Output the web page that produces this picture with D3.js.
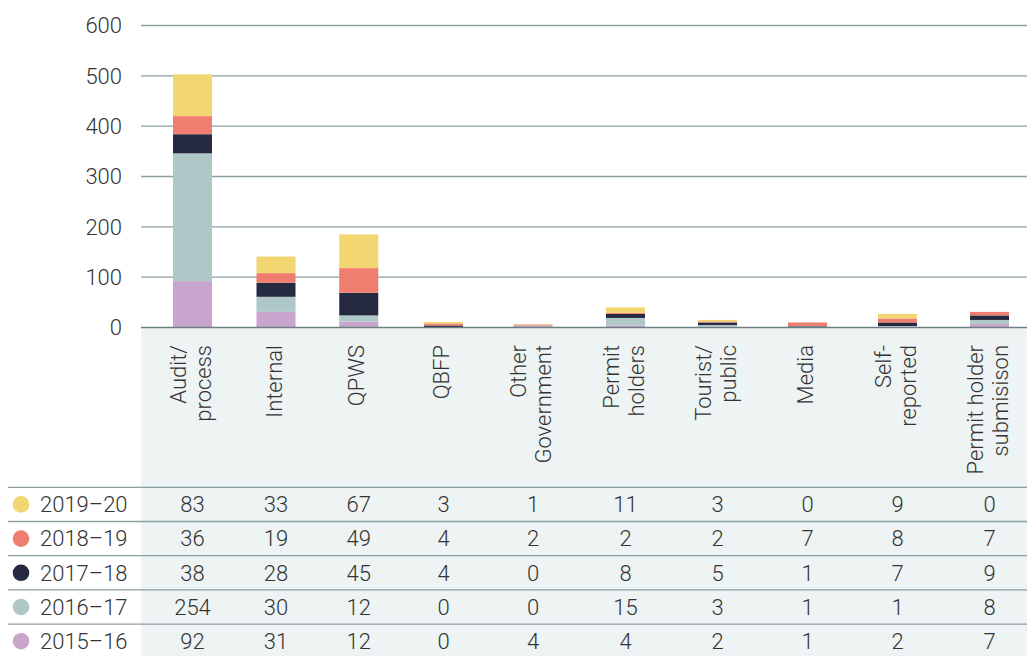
<!DOCTYPE html>
<html>
<head>
<meta charset="utf-8">
<script src="https://cdn.jsdelivr.net/npm/d3@7"></script>
<style>
  html, body { margin: 0; padding: 0; background: #fff; }
  svg text { font-family: Roboto, "Liberation Sans", Arial, sans-serif; font-weight: 300; fill: #333; }
</style>
</head>
<body>
<div id="chart"></div>
<script>
// categories (label lines for the rotated headers)
const categories = ["Audit/process", "Internal", "QPWS", "QBFP", "Other Government",
  "Permit holders", "Tourist/public", "Media", "Self-reported", "Permit holder submisison"];
const categoryLines = [["Audit/", "process"], ["Internal"], ["QPWS"], ["QBFP"], ["Other", "Government"],
  ["Permit", "holders"], ["Tourist/", "public"], ["Media"], ["Self-", "reported"], ["Permit holder", "submisison"]];

// series, bottom of stack first
const years = ["2015–16", "2016–17", "2017–18", "2018–19", "2019–20"];
const v2015_16 = [92, 31, 12, 0, 4, 4, 2, 1, 2, 7];
const v2016_17 = [254, 30, 12, 0, 0, 15, 3, 1, 1, 8];
const v2017_18 = [38, 28, 45, 4, 0, 8, 5, 1, 7, 9];
const v2018_19 = [36, 19, 49, 4, 2, 2, 2, 7, 8, 7];
const v2019_20 = [83, 33, 67, 3, 1, 11, 3, 0, 9, 0];
const seriesValues = [v2015_16, v2016_17, v2017_18, v2018_19, v2019_20];

const yTicks = [0, 100, 200, 300, 400, 500, 600];

const colors = { "2015–16": "#c9a4cc", "2016–17": "#aec8c8", "2017–18": "#252a40",
                 "2018–19": "#f07e6e", "2019–20": "#f1d672" };

const W = 1027, H = 656;
const plotL = 141, plotR = 1027;
const tableTop = 487.3, rowH = 34.2;

// table column widths (layout): the first columns are a little narrower
const colWidths = [84, 83, 82.5, 87, 92, 93, 91, 89, 91, 93];
const colStart = 150.5;

const svg = d3.select("#chart").append("svg")
  .attr("width", W).attr("height", H);

// table / header background
svg.append("rect")
  .attr("x", plotL).attr("y", 328)
  .attr("width", plotR - plotL).attr("height", H - 328)
  .attr("fill", "#eef3f3");

const colEdges = [colStart];
colWidths.forEach(w => colEdges.push(colEdges[colEdges.length - 1] + w));
const x = d3.scaleOrdinal()
  .domain(categories)
  .range(colWidths.map((w, i) => colEdges[i] + w / 2));
const barW = 39;
const y = d3.scaleLinear().domain([0, 600]).range([327.5, 25.5]);

// grid
svg.append("g").selectAll("line")
  .data(yTicks.filter(d => d > 0))
  .join("line")
  .attr("x1", plotL).attr("x2", plotR)
  .attr("y1", d => y(d)).attr("y2", d => y(d))
  .attr("stroke", "#8d9ea2").attr("stroke-width", 1.3);

// y tick labels
svg.append("g").selectAll("text")
  .data(yTicks)
  .join("text")
  .attr("x", 122).attr("y", d => y(d))
  .attr("dy", "0.35em")
  .attr("text-anchor", "end")
  .attr("font-size", 22)
  .text(d => d);

// stacked bars
const rows = categories.map((c, i) => {
  const r = { cat: c };
  years.forEach((yr, k) => r[yr] = seriesValues[k][i]);
  return r;
});
const stacked = d3.stack().keys(years)(rows);

svg.append("g").selectAll("g")
  .data(stacked)
  .join("g")
  .attr("fill", s => colors[s.key])
  .selectAll("rect")
  .data(s => s)
  .join("rect")
  .attr("x", d => x(d.data.cat) - barW / 2)
  .attr("width", barW)
  .attr("y", d => y(d[1]))
  .attr("height", d => y(d[0]) - y(d[1]));

// baseline
svg.append("line")
  .attr("x1", plotL).attr("x2", plotR)
  .attr("y1", y(0)).attr("y2", y(0))
  .attr("stroke", "#6b7f84").attr("stroke-width", 1.5);

// rotated category headers
const hdr = svg.append("g").selectAll("text")
  .data(categories)
  .join("text")
  .attr("transform", d => `translate(${x(d) - 2},345) rotate(-90)`)
  .attr("text-anchor", "end")
  .attr("font-size", 22);
hdr.each(function (d, i) {
  const lines = categoryLines[i];
  const t = d3.select(this);
  lines.forEach((ln, j) => {
    t.append("tspan")
      .attr("x", 0)
      .attr("y", (j - (lines.length - 1) / 2) * 25)
      .attr("dy", "0.35em")
      .text(ln);
  });
});

// table rows, top row = latest year
const tableYears = years.slice().reverse();
const tRow = svg.append("g").selectAll("g")
  .data(tableYears)
  .join("g")
  .attr("transform", (d, i) => `translate(0,${tableTop + rowH * (i + 0.5)})`);

tRow.append("circle")
  .attr("cx", 21).attr("cy", 0).attr("r", 8.3)
  .attr("fill", d => colors[d]);

tRow.append("text")
  .attr("x", 40).attr("dy", "0.35em")
  .attr("font-size", 22)
  .text(d => d);

tRow.selectAll("text.v")
  .data(yr => seriesValues[years.indexOf(yr)].map((v, i) => ({ v, cat: categories[i] })))
  .join("text")
  .attr("class", "v")
  .attr("x", d => x(d.cat))
  .attr("dy", "0.35em")
  .attr("text-anchor", "middle")
  .attr("font-size", 22)
  .text(d => d.v);

// row separators
svg.append("g").selectAll("line")
  .data(d3.range(tableYears.length))
  .join("line")
  .attr("x1", 8).attr("x2", plotR)
  .attr("y1", i => tableTop + rowH * i).attr("y2", i => tableTop + rowH * i)
  .attr("stroke", "#8d9ea2").attr("stroke-width", 1.3);
</script>
</body>
</html>
